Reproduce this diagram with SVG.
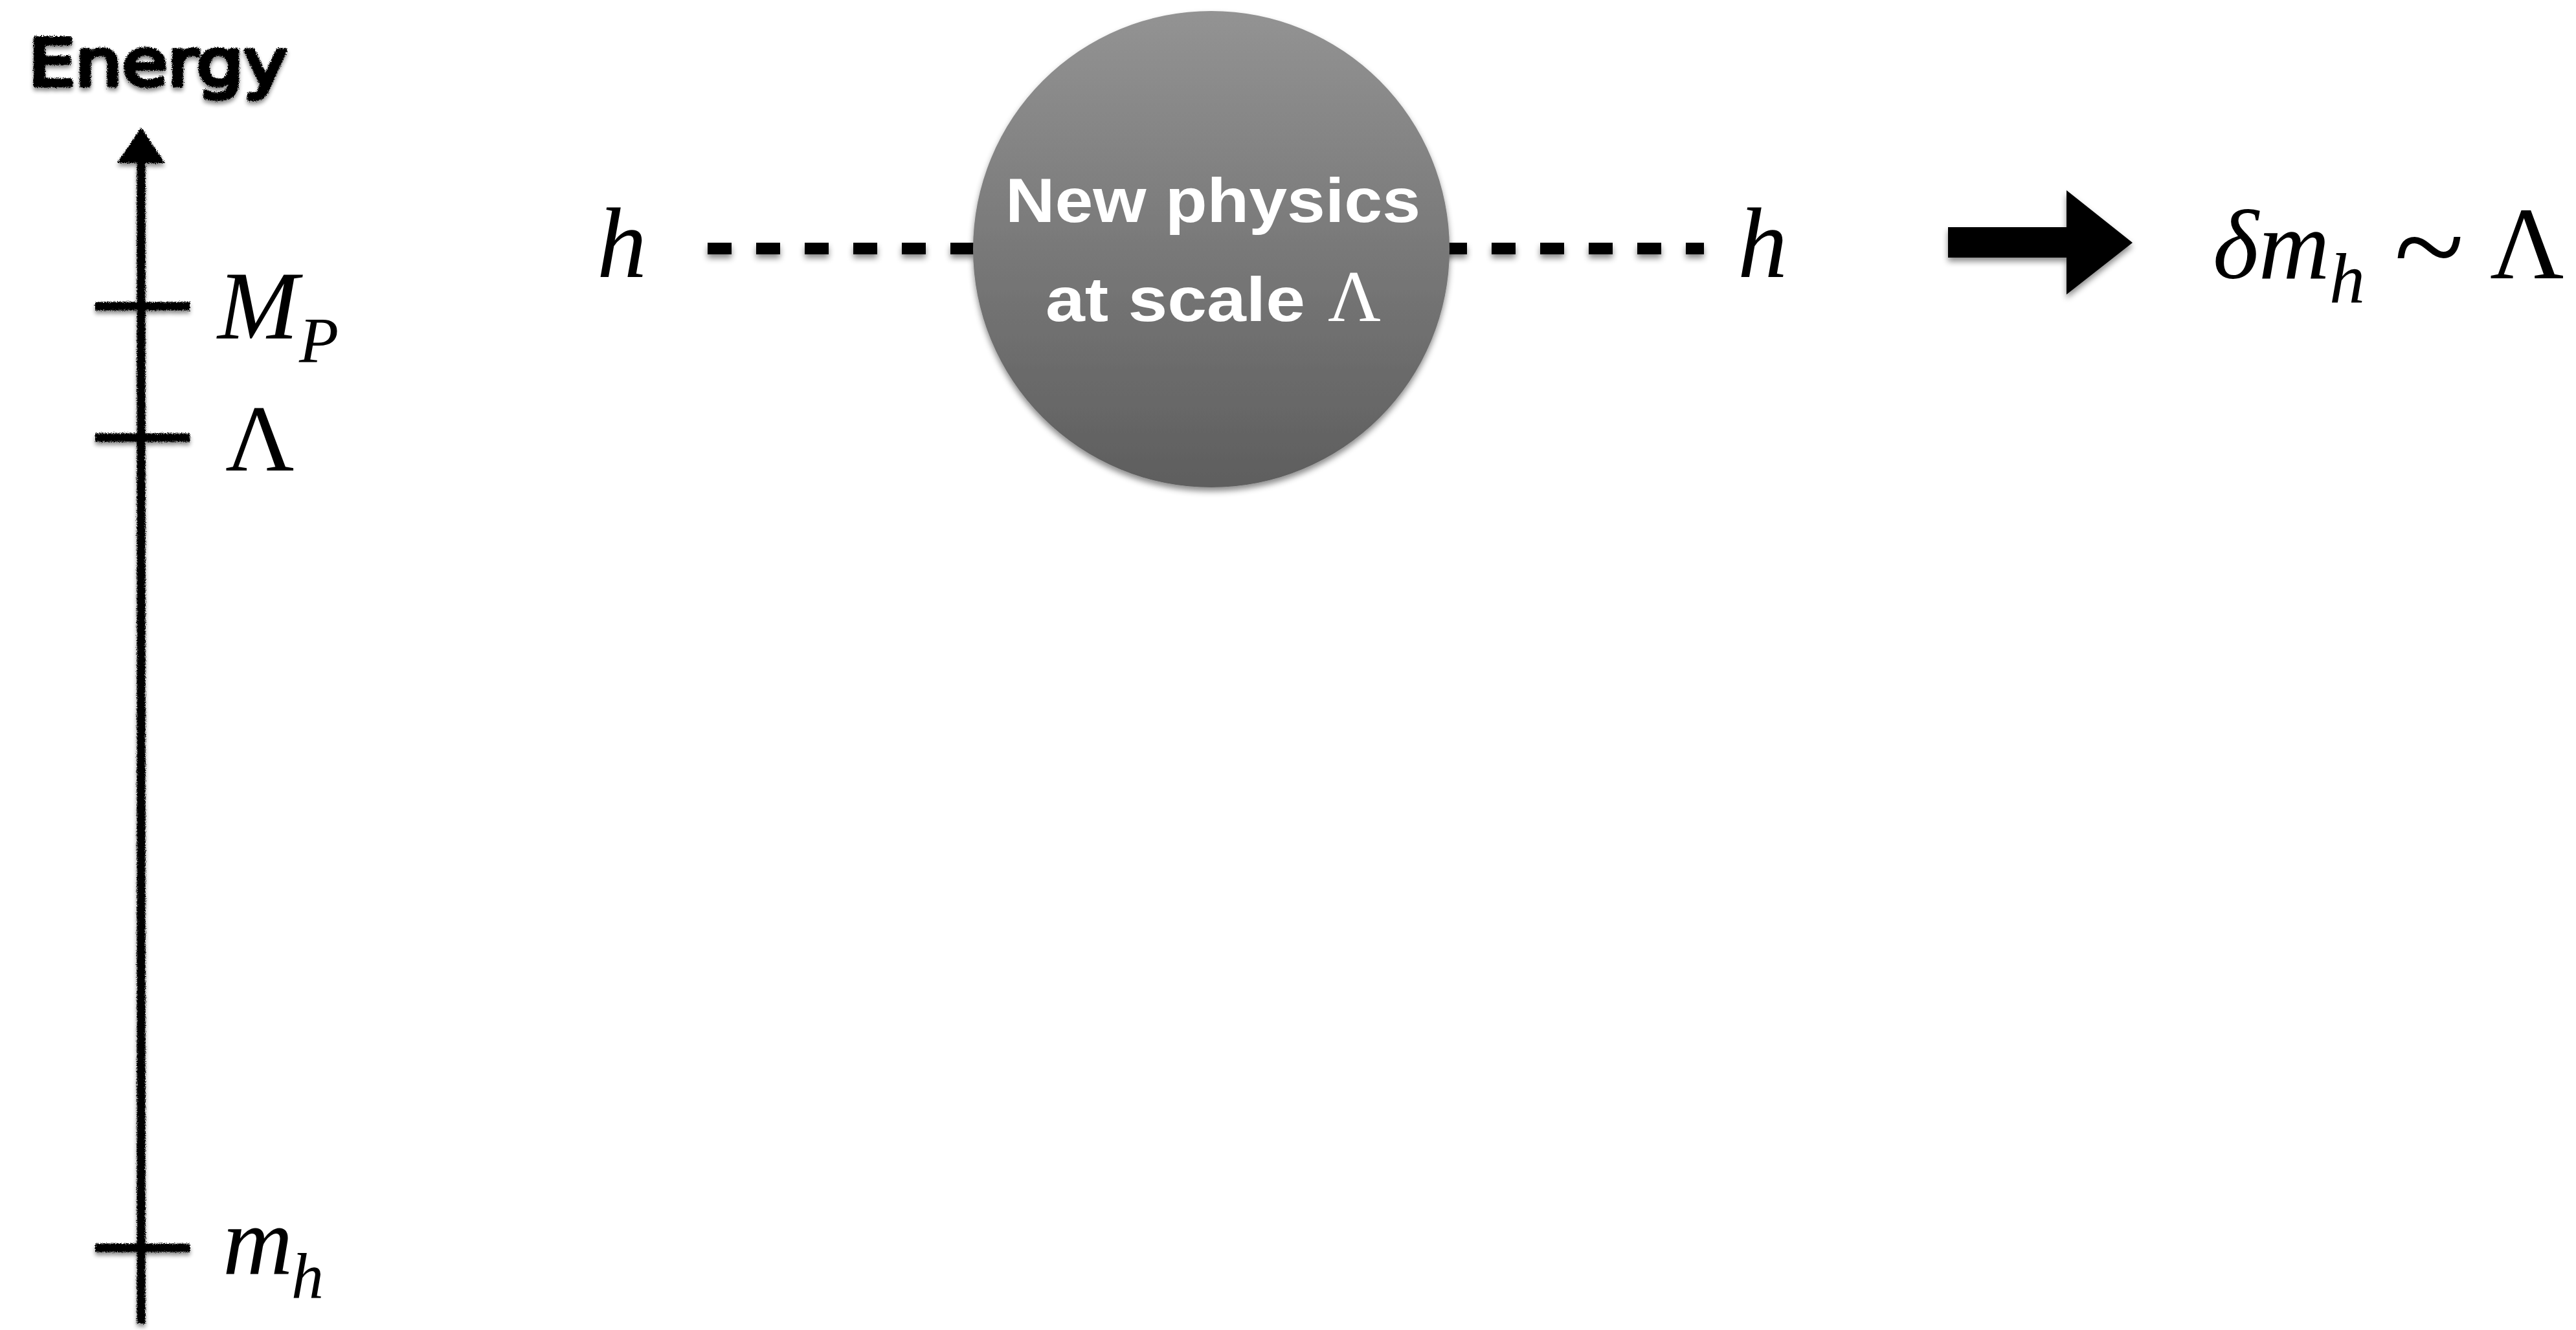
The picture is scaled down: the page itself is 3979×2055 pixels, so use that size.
<svg xmlns="http://www.w3.org/2000/svg" width="3979" height="2055" viewBox="0 0 3979 2055">
  <defs>
    <linearGradient id="ballGrad" x1="0" y1="0" x2="0" y2="1">
      <stop offset="0" stop-color="#939393"/>
      <stop offset="1" stop-color="#5e5e5e"/>
    </linearGradient>
    <filter id="shadow" x="-10%" y="-10%" width="120%" height="130%">
      <feDropShadow dx="0" dy="6" stdDeviation="5" flood-color="#000" flood-opacity="0.45"/>
    </filter>
    <filter id="chalk" x="-10%" y="-10%" width="120%" height="120%">
      <feTurbulence type="fractalNoise" baseFrequency="0.7" numOctaves="2" seed="3" result="noise"/>
      <feDisplacementMap in="SourceGraphic" in2="noise" scale="7" xChannelSelector="R" yChannelSelector="G" result="rough"/>
      <feGaussianBlur in="rough" stdDeviation="3" result="blur"/>
      <feOffset in="blur" dx="0" dy="5" result="off"/>
      <feComponentTransfer in="off" result="sh">
        <feFuncA type="linear" slope="0.45"/>
      </feComponentTransfer>
      <feMerge>
        <feMergeNode in="sh"/>
        <feMergeNode in="rough"/>
      </feMerge>
    </filter>
    <style>
      .math { font-family: "Liberation Serif", "Times New Roman", serif; fill: #000; }
      .it { font-style: italic; }
      .chalkline { stroke: #000; stroke-width: 13; fill: none; }
      .label { font-family: "Liberation Sans", Arial, sans-serif; font-weight: bold; fill: #fff; }
      .dash { stroke: #000; stroke-width: 18; stroke-dasharray: 37 38; fill: none; }
    </style>
  </defs>

  <rect width="3979" height="2055" fill="#fff"/>

  <!-- Energy axis -->
  <g id="energy-axis" filter="url(#chalk)">
    <text x="44" y="132" font-family="DejaVu Sans, sans-serif" font-size="100" fill="#000" stroke="#000" stroke-width="6" stroke-linejoin="round" textLength="400" lengthAdjust="spacingAndGlyphs">Energy</text>
    <line class="chalkline" x1="218" y1="245" x2="218" y2="2045"/>
    <polygon points="218,197 255,252 181,252" fill="#000"/>
    <line class="chalkline" x1="147" y1="473" x2="293" y2="473"/>
    <line class="chalkline" x1="147" y1="676" x2="293" y2="676"/>
    <line class="chalkline" x1="147" y1="1928" x2="293" y2="1928"/>
  </g>

  <g id="label-MP">
    <text class="math it" x="336" y="523" font-size="150">M</text>
    <text class="math it" x="462" y="559" font-size="100">P</text>
  </g>
  <g id="label-Lambda">
    <text class="math" x="348" y="727" font-size="147">Λ</text>
  </g>
  <g id="label-mh">
    <text class="math it" x="344" y="1968" font-size="150">m</text>
    <text class="math it" x="450" y="2005" font-size="100">h</text>
  </g>

  <!-- connectors -->
  <g id="connectors" filter="url(#shadow)">
    <line class="dash" x1="1093" y1="384" x2="1520" y2="384"/>
    <line class="dash" x1="2229" y1="384" x2="2632" y2="384"/>
    <polygon id="implies-arrow" points="3009,351 3192,351 3192,294 3294,375 3192,455 3192,398 3009,398" fill="#000"/>
  </g>

  <!-- external legs -->
  <g id="h-left">
    <text class="math it" x="922" y="428" font-size="154">h</text>
  </g>
  <g id="h-right">
    <text class="math it" x="2684" y="428" font-size="154">h</text>
  </g>

  <!-- new physics blob -->
  <g id="new-physics">
    <circle cx="1871" cy="385" r="368" fill="url(#ballGrad)" filter="url(#shadow)"/>
    <text class="label" x="1553" y="343" font-size="97" textLength="641" lengthAdjust="spacingAndGlyphs">New physics</text>
    <text class="label" x="1615" y="496" font-size="97" textLength="401" lengthAdjust="spacingAndGlyphs">at scale</text>
    <text x="2051" y="496" font-family="Liberation Serif, serif" font-size="113" fill="#fff">Λ</text>
  </g>

  <!-- result -->
  <g id="result">
    <text class="math it" x="3418" y="430" font-size="152">δm</text>
    <text class="math it" x="3598" y="468" font-size="110">h</text>
    <text class="math" x="3698" y="448" font-size="200">~</text>
    <text class="math" x="3846" y="430" font-size="158">Λ</text>
  </g>
</svg>
